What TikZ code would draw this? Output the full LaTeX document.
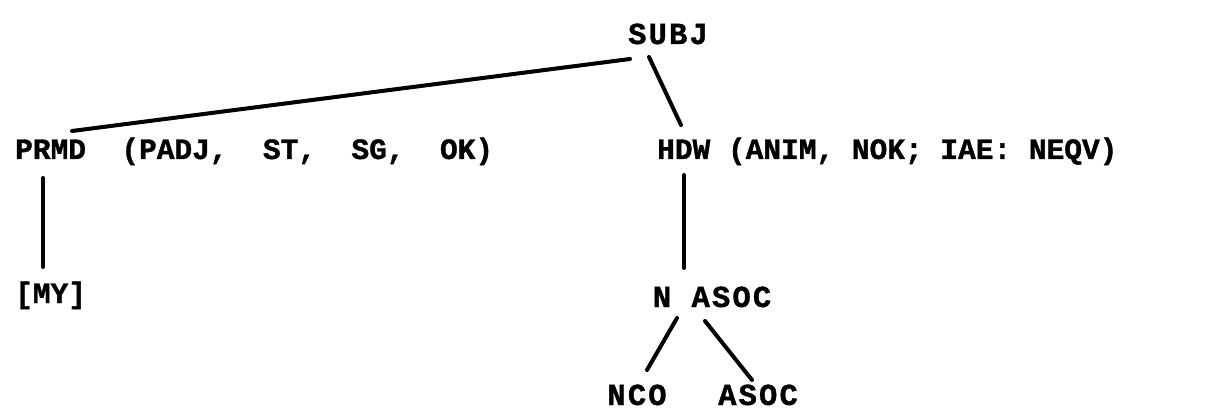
\documentclass[tikz,border=0pt]{standalone}
\usepackage{fontspec}
\setmainfont{Liberation Mono}[BoldFeatures={FakeBold=1.2}]
\usetikzlibrary{calc}
\begin{document}
\begin{tikzpicture}[x=1pt,y=-1pt,
  lbl/.style={inner sep=0pt, font=\fontsize{29.5}{35}\selectfont\bfseries},
  wide/.style={font=\fontsize{30.5}{35}\selectfont\bfseries\addfontfeature{LetterSpace=7}},
  edge/.style={line width=4pt, line cap=round}]
\useasboundingbox[fill=white] (0,0) rectangle (1221,409);
\node[lbl, wide, anchor=base] (subj) at (668,44) {SUBJ};
\node[lbl, anchor=base west] (prmd) at (15,159) {PRMD\ \ (PADJ,\ \ ST,\ \ SG,\ \ OK)};
\node[lbl, anchor=base west] (hdw) at (657,159) {HDW (ANIM, NOK; IAE: NEQV)};
\node[lbl, anchor=base west] (my) at (15,303) {[MY]};
\node[lbl, wide, anchor=base] (nasoc) at (712,307) {N ASOC};
\node[lbl, wide, anchor=base] (nco) at (637,405) {NCO};
\node[lbl, wide, anchor=base] (asoc) at (758,405) {ASOC};
\draw[edge] ([shift={(-38,15)}]subj.base) -- ([shift={(57,-28)}]prmd.base west);
\draw[edge] ([shift={(-19,13)}]subj.base) -- ([shift={(24,-34)}]hdw.base west);
\draw[edge] ([shift={(28,19)}]prmd.base west) -- ([shift={(28,-36)}]my.base west);
\draw[edge] ([shift={(27,16)}]hdw.base west) -- ([shift={(-28,-39)}]nasoc.base);
\draw[edge] ([shift={(-35,11)}]nasoc.base) -- ([shift={(10,-35)}]nco.base);
\draw[edge] ([shift={(-7,14)}]nasoc.base) -- ([shift={(-6,-25)}]asoc.base);
\end{tikzpicture}
\end{document}
